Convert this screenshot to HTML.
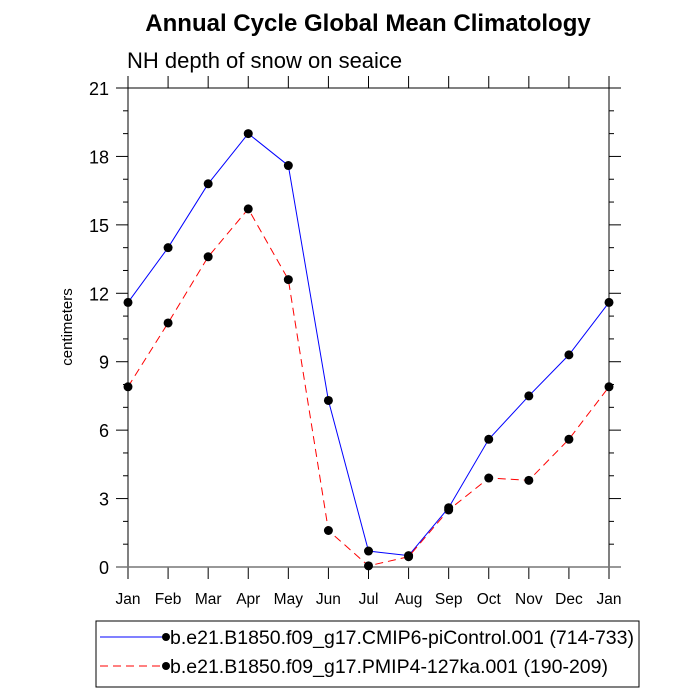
<!DOCTYPE html>
<html><head><meta charset="utf-8"><style>
body{margin:0;background:#fff;}
svg{display:block;font-family:"Liberation Sans",sans-serif;}
</style></head><body>
<svg id="chart" width="700" height="700" viewBox="0 0 700 700">
<text x="368" y="31" text-anchor="middle" font-size="24" font-weight="bold">Annual Cycle Global Mean Climatology</text>
<text x="127" y="68" font-size="22">NH depth of snow on seaice</text>
<text transform="translate(72,327) rotate(-90)" text-anchor="middle" font-size="15">centimeters</text>
<g id="axes"></g>
<g id="series"></g>
<g>
<rect x="96" y="621" width="543" height="66" fill="#fff" stroke="#000" stroke-width="1"/>
<g>
<line x1="100" y1="637" x2="166" y2="637" stroke="#0000ff" stroke-width="1"/>
<circle cx="166" cy="637" r="4" fill="#000"/>
<text x="170" y="644" font-size="19.5">b.e21.B1850.f09_g17.CMIP6-piControl.001 (714-733)</text>
</g>
<g>
<line x1="100" y1="666" x2="166" y2="666" stroke="#ff0000" stroke-width="1" stroke-dasharray="8,5"/>
<circle cx="166" cy="666" r="4" fill="#000"/>
<text x="170" y="673" font-size="19.5">b.e21.B1850.f09_g17.PMIP4-127ka.001 (190-209)</text>
</g>
</g>
</svg>
<script>
const months = ["Jan","Feb","Mar","Apr","May","Jun","Jul","Aug","Sep","Oct","Nov","Dec","Jan"];
const piControl = [11.6,14.0,16.8,19.0,17.6,7.3,0.7,0.5,2.6,5.6,7.5,9.3,11.6];
const pmip127ka = [7.9,10.7,13.6,15.7,12.6,1.6,0.05,0.45,2.5,3.9,3.8,5.6,7.9];
const yTicks = [0,3,6,9,12,15,18,21];

const NS="http://www.w3.org/2000/svg";
const X0=128,X1=609,Y0=567,Y1=88,YMAX=21;
const xs=i=>X0+(X1-X0)*i/(months.length-1);
const ys=v=>Y0-(Y0-Y1)*v/YMAX;
function mk(tag,attrs,parent){const e=document.createElementNS(NS,tag);for(const k in attrs)e.setAttribute(k,attrs[k]);parent.appendChild(e);return e;}
const ax=document.getElementById('axes');
const ser=document.getElementById('series');
const fr=mk('rect',{x:X0,y:Y1,width:X1-X0,height:Y0-Y1,fill:'none',stroke:'#000','stroke-width':1},ax);


yTicks.forEach((t,i)=>{
  const y=ys(t);
  mk('line',{x1:X0-12,y1:y,x2:X0,y2:y,stroke:'#000'},ax);
  mk('line',{x1:X1,y1:y,x2:X1+12,y2:y,stroke:'#000'},ax);
  if(i<yTicks.length-1){for(let m=1;m<3;m++){const ym=ys(t+m);mk('line',{x1:X0-5,y1:ym,x2:X0,y2:ym,stroke:'#000'},ax);mk('line',{x1:X1,y1:ym,x2:X1+5,y2:ym,stroke:'#000'},ax);}}
  const tx=mk('text',{x:X0-19,y:y+7,'text-anchor':'end','font-size':18},ax);
  tx.textContent=t;
  
  
});
months.forEach((m,i)=>{
  const x=xs(i);
  mk('line',{x1:x,y1:Y0,x2:x,y2:Y0+12,stroke:'#000'},ax);
  mk('line',{x1:x,y1:Y1-12,x2:x,y2:Y1,stroke:'#000'},ax);
  const tx=mk('text',{x:x,y:Y0+37,'text-anchor':'middle','font-size':15.5},ax);
  tx.textContent=m;
  
  
});
const zl=mk('line',{x1:X0-12,y1:Y0,x2:X1+12,y2:Y0,stroke:'#777','stroke-width':1.5},ax);


function drawSeries(vals,color,dash,name){
  const pts=vals.map((v,i)=>xs(i)+','+ys(v)).join(' ');
  const pl=mk('polyline',{points:pts,fill:'none',stroke:color,'stroke-width':1,'stroke-dasharray':dash},ser);
  
  
  vals.forEach((v,i)=>{
    const c=mk('circle',{cx:xs(i),cy:ys(v),r:4.5,fill:'#000'},ser);
    
    
  });
}
drawSeries(piControl,'#0000ff','none','picontrol');
drawSeries(pmip127ka,'#ff0000','8,5','pmip4-127ka');
</script>
</body></html>
